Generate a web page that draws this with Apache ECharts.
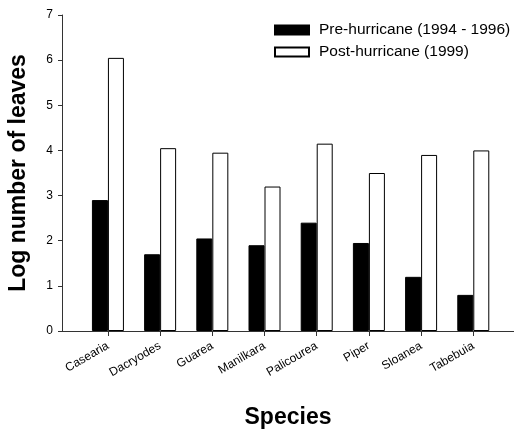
<!DOCTYPE html>
<html>
<head>
<meta charset="utf-8">
<script src="https://cdn.jsdelivr.net/npm/echarts@6/dist/echarts.min.js"></script>
<style>
html,body{margin:0;padding:0;background:#fff;}
#chart{width:514px;height:430px;}
</style>
</head>
<body>
<div id="chart"></div>
<script>
var species = ["Casearia","Dacryodes","Guarea","Manilkara","Palicourea","Piper","Sloanea","Tabebuia"];
var preHurricane = [2.9, 1.7, 2.05, 1.9, 2.4, 1.95, 1.2, 0.8];
var postHurricane = [6.05, 4.05, 3.95, 3.2, 4.15, 3.5, 3.9, 4.0];
var yTicks = [0,1,2,3,4,5,6,7];
var seriesNames = ["Pre-hurricane (1994 - 1996)", "Post-hurricane (1999)"];

var FONT = "'Liberation Sans', Arial, sans-serif";
var positions = species.map(function(s,i){return i+1;});

var chart = echarts.init(document.getElementById('chart'), null, {renderer:'canvas'});
chart.setOption({
  animation:false,
  backgroundColor:'#fff',
  grid:{left:62, right:0, top:15, bottom:99, containLabel:false, outerBoundsMode:'none'},
  legend:{
    orient:'vertical', left:269, top:17,
    itemWidth:34, itemHeight:9, itemGap:6,
    textStyle:{fontFamily:FONT, fontSize:15.5, color:'#000', padding:[0,0,0,5]},
    data:[
      {name:seriesNames[0], icon:'rect'},
      {name:seriesNames[1], icon:'rect'}
    ]
  },
  xAxis:{
    type:'value', min:0.12, max:8.78,
    name:'Species', nameLocation:'middle', nameGap:75,
    nameTextStyle:{fontFamily:FONT, fontSize:23, fontWeight:'bold', color:'#000'},
    splitLine:{show:false},
    axisLine:{show:true, lineStyle:{color:'#333', width:1}},
    axisTick:{show:true, customValues:positions, length:5, lineStyle:{color:'#333'}},
    axisLabel:{
      customValues:positions, rotate:30, margin:14,
      fontFamily:FONT, fontSize:12, color:'#000',
      formatter:function(v){return species[Math.round(v)-1] || '';}
    }
  },
  yAxis:{
    type:'value', min:0, max:7, interval:1,
    name:'Log number of leaves', nameLocation:'middle', nameGap:32,
    nameTextStyle:{fontFamily:FONT, fontSize:23, fontWeight:'bold', color:'#000'},
    splitLine:{show:false},
    axisLine:{show:true, lineStyle:{color:'#333', width:1}},
    axisTick:{show:true, inside:false, length:4, lineStyle:{color:'#333'}},
    axisLabel:{fontFamily:FONT, fontSize:12, color:'#000', margin:9,
      formatter:function(v){return yTicks.indexOf(v)>=0 ? String(v) : '';}}
  },
  series:[
    {
      name:seriesNames[0], type:'bar', barWidth:16, barGap:'0%',
      itemStyle:{color:'#000', borderColor:'#000', borderWidth:1},
      data:positions.map(function(p,i){return [p, preHurricane[i]];})
    },
    {
      name:seriesNames[1], type:'bar', barWidth:16, barGap:'0%',
      itemStyle:{color:'#fff', borderColor:'#000', borderWidth:1},
      data:positions.map(function(p,i){return [p, postHurricane[i]];})
    }
  ]
});
</script>
</body>
</html>
